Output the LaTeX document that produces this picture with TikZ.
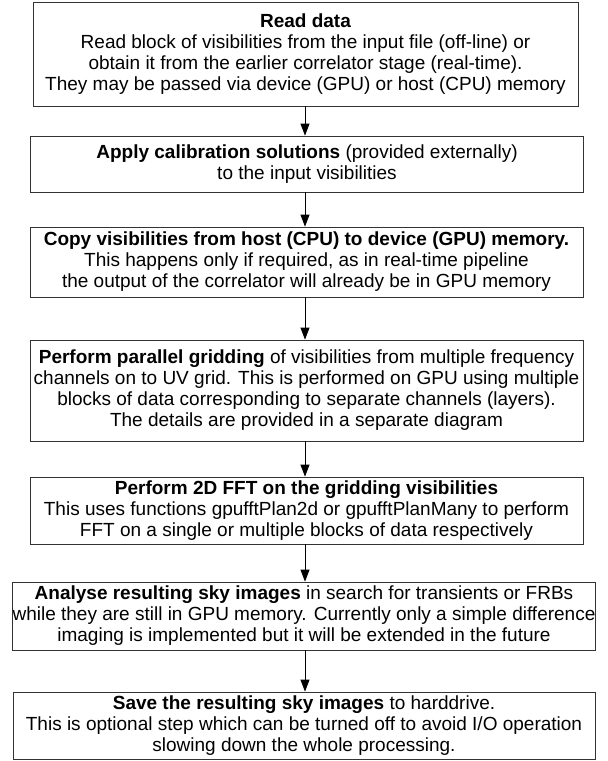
\documentclass[tikz,border=0pt]{standalone}
\usepackage{fontspec}
\setmainfont{Liberation Sans}
\usetikzlibrary{arrows.meta}
\begin{document}
\begin{tikzpicture}[x=1pt,y=1pt]
\tikzstyle{box}=[draw=black!80,line width=0.8pt,align=center,inner sep=0pt,font=\fontsize{19}{21}\selectfont]
\tikzstyle{nar}=[box,minimum width=553pt]
\tikzstyle{wide}=[box,minimum width=582pt]
\tikzstyle{arr}=[line width=0.8pt,-{Triangle[length=12pt,width=9pt]}]
\useasboundingbox (0,0) rectangle (608,-761);

% Steps of the pipeline
\node[box,minimum width=545pt,minimum height=104pt] (read) at (305.5,-54) {\textbf{Read data}\\Read block of visibilities from the input file (off-line) or\\obtain it from the earlier correlator stage (real-time).\\They may be passed via device (GPU) or host (CPU) memory};
\node[nar,minimum height=56pt] (calib) at (307,-164) {\textbf{Apply calibration solutions} (provided externally)\\to the input visibilities};
\node[nar,minimum height=70pt] (copy) at (306.5,-262) {\textbf{Copy visibilities from host (CPU) to device (GPU) memory.}\\This happens only if required, as in real-time pipeline\\the output of the correlator will already be in GPU memory};
\node[nar,minimum height=101pt] (grid) at (306.5,-390.5) {\textbf{Perform parallel gridding} of visibilities from multiple frequency\\channels on to UV grid. This is performed on GPU using multiple\\blocks of data corresponding to separate channels (layers).\\The details are provided in a separate diagram};
\node[nar,minimum height=67pt] (fft) at (306.5,-510.5) {\textbf{Perform 2D FFT on the gridding visibilities}\\This uses functions gpufftPlan2d or gpufftPlanMany to perform\\FFT on a single or multiple blocks of data respectively};
\node[wide,minimum height=68pt] (sky) at (304,-616) {\textbf{Analyse resulting sky images} in search for transients or FRBs\\while they are still in GPU memory. Currently only a simple difference\\imaging is implemented but it will be extended in the future};
\node[wide,minimum height=67pt] (save) at (304,-725.5) {\textbf{Save the resulting sky images} to harddrive.\\This is optional step which can be turned off to avoid I/O operation\\slowing down the whole processing.};

% Arrows
\draw[arr] (read.south -| 305,0) -- (calib.north -| 305,0);
\draw[arr] (calib.south -| 305,0) -- (copy.north -| 305,0);
\draw[arr] (copy.south -| 305,0) -- (grid.north -| 305,0);
\draw[arr] (grid.south -| 305,0) -- (fft.north -| 305,0);
\draw[arr] (fft.south -| 305,0) -- (sky.north -| 305,0);
\draw[arr] (sky.south -| 305,0) -- (save.north -| 305,0);
\end{tikzpicture}
\end{document}
